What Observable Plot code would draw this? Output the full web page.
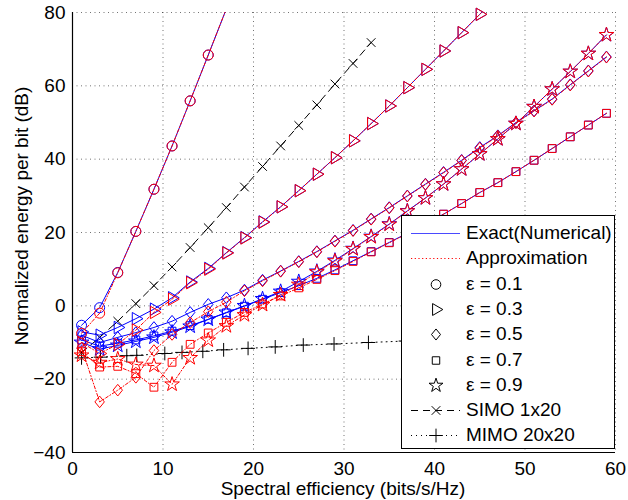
<!DOCTYPE html>
<html>
<head>
<meta charset="utf-8">
<script src="https://cdn.jsdelivr.net/npm/d3@7"></script>
<script src="https://cdn.jsdelivr.net/npm/@observablehq/plot@0.6"></script>
<style>
  html, body { margin: 0; padding: 0; background: #fff; }
  #wrap { position: relative; width: 628px; height: 500px; font-family: "Liberation Sans", Arial, sans-serif; }
  #ylab { position: absolute; left: 22px; top: 216px; transform: translate(-50%, -50%) rotate(-90deg); white-space: nowrap; font-size: 19px; color: #000; }
  #xlab { position: absolute; left: 343px; top: 489px; transform: translate(-50%, -50%); white-space: nowrap; font-size: 19px; color: #000; }
  #legend { position: absolute; left: 401px; top: 215px; width: 214px; height: 234px; background: #fff; border: 1px solid #000; box-sizing: border-box; }
  .row { position: absolute; left: 0; height: 24px; width: 212px; }
  .row svg { position: absolute; left: 8px; top: 0; }
  .row span { position: absolute; left: 64px; top: 0px; font-size: 19px; line-height: 23px; white-space: nowrap; }
</style>
</head>
<body>
<div id="wrap">
  <div id="chart"></div>
  <div id="ylab">Normalized energy per bit (dB)</div>
  <div id="xlab">Spectral efficiency (bits/s/Hz)</div>
  <div id="legend"></div>
</div>
<script>
// ---------- data ----------
const xTicks = [0, 10, 20, 30, 40, 50, 60];
const yTicks = [-40, -20, 0, 20, 40, 60, 80];

const seEps01 = [1, 3, 5, 7, 9, 11, 13, 15, 17];
const exact01 = [-5.3, -0.5, 9.1, 20.3, 31.8, 43.6, 55.9, 68.4, 81.0];
const approx01 = [-7.5, -2.0, 9.0, 20.3, 31.8, 43.6, 55.9, 68.4, 81.0];

const seEps03 = [1, 3, 5, 7, 9, 11, 13, 15, 17, 19, 21, 23, 25, 27, 29, 31, 33, 35, 37, 39, 41, 43, 45, 47];
const exact03 = [-7.1, -8.0, -5.9, -3.5, -0.9, 2.2, 6.5, 10.2, 14.5, 18.6, 22.9, 27.0, 31.4, 35.9, 40.4, 45.0, 49.7, 54.5, 59.5, 64.5, 69.5, 74.5, 79.5, 84.6];
const approx03 = [-10.0, -13.0, -10.5, -6.6, -1.8, 1.8, 6.3, 10.0, 14.4, 18.5, 22.8, 27.0, 31.4, 35.9, 40.4, 45.0, 49.7, 54.5, 59.5, 64.5, 69.5, 74.5, 79.5, 84.6];

const seFull = [1, 3, 5, 7, 9, 11, 13, 15, 17, 19, 21, 23, 25, 27, 29, 31, 33, 35, 37, 39, 41, 43, 45, 47, 49, 51, 53, 55, 57, 59];
const exact05 = [-8.0, -10.0, -8.6, -7.3, -5.9, -4.2, -1.8, 0.4, 2.2, 4.3, 7.0, 9.5, 12.1, 14.8, 17.7, 20.6, 23.7, 26.8, 30.0, 33.2, 36.4, 39.7, 43.2, 46.4, 50.0, 53.2, 56.4, 60.3, 64.1, 67.9];
const approx05 = [-11.5, -26.2, -23.0, -19.5, -12.2, -7.8, -4.6, -1.6, 1.0, 4.1, 6.8, 9.4, 12.0, 14.7, 17.6, 20.5, 23.6, 26.7, 29.9, 33.1, 36.3, 39.6, 43.0, 46.3, 49.9, 53.1, 56.3, 60.2, 64.0, 67.8];
const exact07 = [-9.3, -11.0, -10.2, -9.3, -8.2, -6.9, -5.4, -3.7, -1.9, -0.1, 1.8, 3.6, 5.5, 7.5, 9.8, 12.3, 14.8, 17.3, 19.8, 22.4, 25.0, 27.9, 30.9, 33.6, 36.6, 39.7, 42.9, 46.1, 49.3, 52.5];
const approx07 = [-12.5, -16.7, -16.5, -18.5, -22.2, -15.4, -10.5, -7.4, -4.5, -1.8, 0.5, 2.7, 4.9, 7.2, 9.6, 12.1, 14.7, 17.2, 19.7, 22.3, 25.0, 27.9, 30.9, 33.6, 36.6, 39.7, 42.9, 46.1, 49.3, 52.5];
const exact09 = [-10.0, -11.8, -10.8, -9.7, -8.6, -7.2, -5.6, -3.7, -1.8, 0.0, 1.9, 3.9, 6.6, 9.4, 12.4, 15.6, 18.9, 22.3, 25.9, 29.4, 33.2, 37.3, 41.4, 45.5, 49.7, 54.3, 59.1, 63.9, 68.8, 73.9];
const approx09 = [-13.5, -15.5, -14.5, -16.0, -16.3, -21.4, -14.2, -9.4, -5.5, -2.5, 0.3, 3.0, 5.8, 9.2, 12.2, 15.5, 18.8, 22.2, 25.8, 29.4, 33.2, 37.3, 41.4, 45.5, 49.7, 54.3, 59.1, 63.9, 68.8, 73.9];

const seSimo = [1, 3, 5, 7, 9, 11, 13, 15, 17, 19, 21, 23, 25, 27, 29, 31, 33];
const simo = [-12.8, -8.6, -4.2, 0.6, 5.5, 10.6, 15.9, 21.3, 26.8, 32.4, 38.0, 43.6, 49.2, 54.8, 60.5, 66.1, 71.8];

const seMimo = [1, 3.1, 6.0, 7.1, 10.2, 12.1, 14.4, 16.7, 19.4, 22.4, 25.5, 28.9, 32.7, 36.8, 41.2];
const mimo = [-14.2, -14.0, -13.6, -13.5, -13.0, -12.7, -12.4, -12.0, -11.6, -11.2, -10.7, -10.4, -10.0, -9.6, -9.2];

const legendLabels = ["Exact(Numerical)", "Approximation", "ε = 0.1", "ε = 0.3", "ε = 0.5", "ε = 0.7", "ε = 0.9", "SIMO 1x20", "MIMO 20x20"];

// ---------- styles ----------
const BLUE = "#0000ff", RED = "#ff0000";
// MATLAB-like diamond: a bit taller than wide
const diamondM = {
  draw(context, size) {
    const r = Math.sqrt(size / Math.PI);
    const h = r * 1.35, w = r * 1.1;
    context.moveTo(0, -h);
    context.lineTo(w, 0);
    context.lineTo(0, h);
    context.lineTo(-w, 0);
    context.closePath();
  }
};
const epsSpecs = [
  {xs: seEps01, ex: exact01, ap: approx01, symbol: "circle", r: 5, rotate: 0},
  {xs: seEps03, ex: exact03, ap: approx03, symbol: "triangle", r: 4.6, rotate: 90},
  {xs: seFull, ex: exact05, ap: approx05, symbol: diamondM, r: 4.3, rotate: 0},
  {xs: seFull, ex: exact07, ap: approx07, symbol: "square", r: 4.4, rotate: 0},
  {xs: seFull, ex: exact09, ap: approx09, symbol: "star", r: 4.6, rotate: 0}
];
const toRows = (xs, ys) => xs.map((x, i) => ({x, y: ys[i]}));
const inFrame = d => d.y <= 80.5;

const marks = [
  Plot.gridX(xTicks, {stroke: "#000", strokeOpacity: 0.55, strokeDasharray: "1,3.5"}),
  Plot.gridY(yTicks, {stroke: "#000", strokeOpacity: 0.55, strokeDasharray: "1,3.5"}),
  Plot.axisX(xTicks, {tickSize: 0, tickPadding: 9, fontSize: 19, label: null}),
  Plot.axisY(yTicks, {tickSize: 0, tickPadding: 7, fontSize: 19, label: null}),
];

// SIMO & MIMO
marks.push(Plot.line(toRows(seSimo, simo), {x: "x", y: "y", stroke: "#000", strokeWidth: 1, strokeDasharray: "7,5", clip: true}));
marks.push(Plot.dot(toRows(seSimo, simo), {x: "x", y: "y", symbol: "times", r: 4, stroke: "#000", strokeWidth: 1, fill: "none"}));
marks.push(Plot.line(toRows(seMimo, mimo), {x: "x", y: "y", stroke: "#000", strokeWidth: 1, strokeDasharray: "1,4", clip: true}));
marks.push(Plot.dot(toRows(seMimo, mimo), {x: "x", y: "y", symbol: "plus", r: 4.5, stroke: "#000", strokeWidth: 1, fill: "none"}));

for (const s of epsSpecs) {
  const ex = toRows(s.xs, s.ex);
  marks.push(Plot.line(ex, {x: "x", y: "y", stroke: BLUE, strokeWidth: 1, clip: true}));
  marks.push(Plot.dot(ex.filter(inFrame), {x: "x", y: "y", symbol: s.symbol, r: s.r, rotate: s.rotate, stroke: BLUE, strokeWidth: 1, fill: "none"}));
}
for (const s of epsSpecs) {
  const ap = toRows(s.xs, s.ap);
  marks.push(Plot.line(ap, {x: "x", y: "y", stroke: RED, strokeWidth: 1, strokeDasharray: "3,2,1,2", clip: true}));
  marks.push(Plot.dot(ap.filter(inFrame), {x: "x", y: "y", symbol: s.symbol, r: s.r, rotate: s.rotate, stroke: RED, strokeWidth: 1, fill: "none"}));
}
marks.push(Plot.ruleX([0], {stroke: "#000", strokeWidth: 1.2}));
marks.push(Plot.ruleY([-40], {stroke: "#000", strokeWidth: 1.2}));

const chart = Plot.plot({
  width: 628,
  height: 500,
  marginLeft: 72,
  marginRight: 13,
  marginTop: 12,
  marginBottom: 48,
  style: {fontFamily: "Liberation Sans, Arial, sans-serif", fontSize: "19px", color: "#000", background: "#fff", overflow: "visible"},
  x: {domain: [0, 60]},
  y: {domain: [-40, 80]},
  marks
});
document.getElementById("chart").appendChild(chart);

// ---------- legend ----------
const legend = d3.select("#legend");
const legendKinds = [
  {line: BLUE, dash: null, w: 1, color: "#4a4aff"},
  {line: RED, dash: "1.2,2.5", w: 1.2},
  {sym: d3.symbolCircle, r: 4.8},
  {sym: d3.symbolTriangle, r: 4.4, rot: 90},
  {sym: diamondM, r: 4.1},
  {sym: d3.symbolSquare, r: 4.2},
  {sym: d3.symbolStar, r: 4.4},
  {line: "#000", dash: "7,5", w: 1, sym: d3.symbolTimes, r: 4},
  {line: "#000", dash: "1,4", w: 1, sym: d3.symbolPlus, r: 4.5}
];
legendLabels.forEach((lab, i) => {
  const k = legendKinds[i];
  const row = legend.append("div").attr("class", "row").style("top", (5 + i * 25.3) + "px");
  const svg = row.append("svg").attr("width", 52).attr("height", 24);
  if (k.line) {
    const ln = svg.append("line").attr("x1", 1).attr("x2", 50).attr("y1", 12.5).attr("y2", 12.5)
      .attr("stroke", k.color || k.line).attr("stroke-width", k.w);
    if (k.dash) ln.attr("stroke-dasharray", k.dash);
  }
  if (k.sym) {
    svg.append("path").attr("d", d3.symbol(k.sym, Math.PI * k.r * k.r)())
      .attr("transform", `translate(26,12.5) rotate(${k.rot || 0})`)
      .attr("fill", k.line ? "#fff" : "none").attr("stroke", "#000").attr("stroke-width", 1);
  }
  row.append("span").text(lab);
});
</script>
</body>
</html>
